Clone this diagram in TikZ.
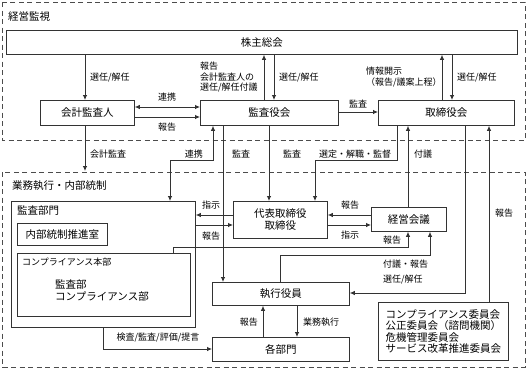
\documentclass[tikz,border=0pt]{standalone}
\usepackage{fontspec}
\setmainfont{Noto Sans CJK JP}
\usetikzlibrary{arrows.meta}

\tikzset{
  box/.style={draw=black!80, rectangle, line width=0.8pt, inner sep=0pt,
    anchor=north west, font={\fontsize{10.5}{12}\selectfont}},
  head/.style={inner sep=0pt, anchor=west, font={\fontsize{10.5}{12}\selectfont}},
  lbl/.style={inner sep=0pt, font={\fontsize{9}{10.5}\selectfont}},
  area/.style={draw=black!70, line width=0.8pt, dash pattern=on 5pt off 3.5pt},
  link/.style={draw=black!80, line width=0.8pt, -{Latex[length=5pt,width=4.5pt]}},
  twolink/.style={link, {Latex[length=5pt,width=4.5pt]}-{Latex[length=5pt,width=4.5pt]}},
}

\begin{document}
\begin{tikzpicture}[x=1pt, y=-1pt]
\useasboundingbox (0,0) rectangle (527,370);

% two regions
\draw[area] (2,2) rectangle (525,140);
\draw[area] (2,172) rectangle (525,367);
\node[head] (kanshi) at (8,17) {経営監視};
\node[head] (gyomu) at (12,186) {業務執行・内部統制};

% boxes
\node[box, minimum width=511pt, minimum height=24pt] (kabu) at (6,30) {株主総会};
\node[box, minimum width=94pt, minimum height=25pt] (kaikei) at (40,100) {会計監査人};
\node[box, minimum width=138pt, minimum height=25pt] (kansayaku) at (200,100) {監査役会};
\node[box, minimum width=136pt, minimum height=25pt] (torishimari) at (378,100) {取締役会};

\node[box, minimum width=94pt, minimum height=37pt, align=center] (daihyo)
 at (233,201) {代表取締役\\取締役};
\node[box, minimum width=75pt, minimum height=24pt] (keiei) at (371,207) {経営会議};

\node[box, minimum width=184pt, minimum height=126pt] (kansabumon) at (11,201) {};
\node[head] (kansabumon-t) at (17,211) {監査部門};
\node[box, minimum width=90pt, minimum height=22pt] (naibu) at (17,223) {内部統制推進室};
\node[box, minimum width=173pt, minimum height=63pt] (comp) at (17,253) {};
\node[lbl, anchor=west] (comp-t) at (22,262) {コンプライアンス本部};
\node[head, anchor=north west, align=left, font={\fontsize{10.5}{12}\selectfont}] (comp-b)
 at (55,279) {監査部\\コンプライアンス部};

\node[box, minimum width=137pt, minimum height=23pt] (shikkou) at (212,282) {執行役員};
\node[box, minimum width=137pt, minimum height=24pt] (kakubu) at (212,337) {各部門};
\node[box, minimum width=130pt, minimum height=58pt, align=left,
 font={\fontsize{10.5}{11.5}\selectfont}] (iinkai)
 at (378,302) {コンプライアンス委員会\\公正委員会（諮問機関）\\危機管理委員会\\サービス改革推進委員会};

% shareholders
\draw[link] (kabu.south -| 85,0) -- (kaikei.north -| 85,0);
\node[lbl, anchor=west] (l-sen1) at (90,78) {選任/解任};
\draw[link] (kansayaku.north -| 264,0) -- (kabu.south -| 264,0);
\node[lbl, anchor=north west, align=left] (l-fugi1) at (200,62) {報告\\会計監査人の\\選任/解任付議};
\draw[link] (kabu.south -| 274,0) -- (kansayaku.north -| 274,0);
\node[lbl, anchor=west] (l-sen2) at (279,78) {選任/解任};
\draw[link] (torishimari.north -| 442,0) -- (kabu.south -| 442,0);
\node[lbl, anchor=north west, align=left] (l-joho) at (366,67) {情報開示\\（報告/議案上程）};
\draw[link] (kabu.south -| 452,0) -- (torishimari.north -| 452,0);
\node[lbl, anchor=west] (l-sen3) at (457,78) {選任/解任};

% auditors
\draw[twolink] (kaikei.east |- 0,107) -- (kansayaku.west |- 0,107);
\node[lbl] (l-renkei1) at (167,97) {連携};
\draw[link] (kaikei.east |- 0,117) -- (kansayaku.west |- 0,117);
\node[lbl] (l-hou1) at (167,127) {報告};
\draw[link] (kansayaku.east |- 0,112) -- (torishimari.west |- 0,112);
\node[lbl] (l-kansa1) at (358,104) {監査};

% down into execution
\coordinate (kaikei-end) at (85,171);
\draw[link] (kaikei.south -| 85,0) -- (kaikei-end);
\node[lbl, anchor=west] (l-kaikei) at (90,154) {会計監査};
\draw[twolink] (kansayaku.south -| 213,0) -- (213,160) -- (170,160) -- (kansabumon.north -| 170,0);
\node[lbl, anchor=east] (l-renkei2) at (203,154) {連携};
\draw[link] (kansayaku.south -| 223,0) -- (shikkou.north -| 223,0);
\node[lbl, anchor=west] (l-kansa2) at (232,154) {監査};
\draw[link] (kansayaku.south -| 269,0) -- (daihyo.north -| 269,0);
\node[lbl, anchor=west] (l-kansa3) at (283,154) {監査};
\draw[link] (torishimari.south -| 397,0) -- (397,160) -- (315,160) -- (daihyo.north -| 315,0);
\node[lbl, anchor=west] (l-sentei) at (319,154) {選定・解職・監督};
\draw[link] (keiei.north -| 408,0) -- (torishimari.south -| 408,0);
\node[lbl, anchor=west] (l-fugi2) at (414,154) {付議};
\draw[link] (iinkai.north -| 489,0) -- (torishimari.south -| 489,0);
\node[lbl, anchor=west] (l-hou2) at (495,213) {報告};
\draw[link] (torishimari.south -| 465,0) -- (465,293) -- (shikkou.east |- 0,293);
\node[lbl, anchor=west] (l-sen4) at (383,280) {選任/解任};

% management meeting
\draw[link] (shikkou.north -| 280,0) -- (280,255) -- (430,255) -- (keiei.south -| 430,0);
\node[lbl, anchor=west] (l-fugi3) at (383,264) {付議・報告};
\draw[link] (comp.north -| 173,0) -- (173,247) -- (408,247) -- (keiei.south -| 408,0);
\node[lbl, anchor=west] (l-hou3) at (383,240) {報告};
\draw[link] (daihyo.west |- 0,215) -- (kansabumon.east |- 0,215);
\node[lbl] (l-shiji1) at (211,205) {指示};
\draw[link] (kansabumon.east |- 0,225) -- (daihyo.west |- 0,225);
\node[lbl] (l-hou4) at (211,236) {報告};
\draw[link] (keiei.west |- 0,215) -- (daihyo.east |- 0,215);
\node[lbl] (l-hou5) at (350,205) {報告};
\draw[link] (daihyo.east |- 0,225) -- (keiei.west |- 0,225);
\node[lbl] (l-shiji2) at (350,235) {指示};

% departments
\draw[link] (kansabumon.south -| 103,0) -- (103,349) -- (kakubu.west |- 0,349);
\node[lbl] (l-kensa) at (158,338) {検査/監査/評価/提言};
\draw[link] (kakubu.north -| 263,0) -- (shikkou.south -| 263,0);
\node[lbl, anchor=east] (l-hou6) at (258,322) {報告};
\draw[link] (shikkou.south -| 297,0) -- (kakubu.north -| 297,0);
\node[lbl, anchor=west] (l-gyomu) at (303,322) {業務執行};

\end{tikzpicture}
\end{document}
